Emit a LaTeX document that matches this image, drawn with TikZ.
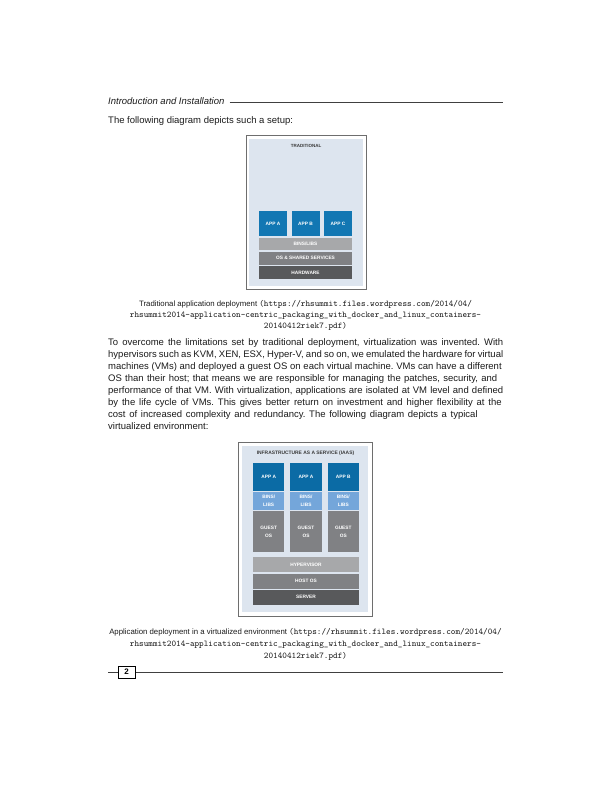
\documentclass[tikz,border=0pt]{standalone}
\usepackage{fontspec}
\setmainfont{Liberation Sans}
\frenchspacing
\definecolor{framegray}{HTML}{6E6E6E}
\definecolor{panelblue}{HTML}{DDE5EF}
\definecolor{appblue}{HTML}{1277B3}
\definecolor{appdark}{HTML}{0B6BA5}
\definecolor{binsblue}{HTML}{74A6DA}
\definecolor{glight}{HTML}{A7A8AA}
\definecolor{gmid}{HTML}{808184}
\definecolor{gdark}{HTML}{58595B}
\definecolor{titlegray}{HTML}{3A3A3A}
\definecolor{bodytext}{HTML}{1A1A1A}
\newcommand{\bodyfont}{\fontsize{9.5}{12}\selectfont}
\newcommand{\capsans}{\fontsize{7.8}{9}\selectfont}
\newcommand{\captt}{\fontsize{8.8}{12}\selectfont\ttfamily}
\newcommand{\fitline}[2]{\makebox[#1pt][s]{#2}}
\tikzset{
  framebox/.style={draw=framegray, line width=0.9pt, fill=white, inner sep=0pt},
  panelbox/.style={draw=none, fill=panelblue, inner sep=0pt},
  blk/.style={draw=none, inner sep=0pt, align=center, text=white,
              font=\fontsize{4.8}{7.8}\selectfont\bfseries},
  dtitle/.style={inner sep=0pt, text=titlegray, font=\fontsize{4.5}{5}\selectfont\bfseries},
  bodyline/.style={anchor=base west, inner sep=0pt, font=\bodyfont, text=bodytext},
  capline/.style={anchor=base, inner sep=0pt, text=bodytext},
  rulel/.style={draw=black!75, line width=0.6pt}
}
\begin{document}
\begin{tikzpicture}[x=1pt,y=-1pt]
\useasboundingbox (0,0) rectangle (612,792);
% header
\node[anchor=base west, inner sep=0pt, font=\bodyfont\itshape, text=bodytext] (hdr) at (108,104.5) {Introduction and Installation};
\coordinate (hdrend) at (503,102.5);
\draw[rulel] ([xshift=5pt]hdr.east |- hdrend) -- (hdrend);
\node[bodyline] (intro) at (108,123) {The following diagram depicts such a setup:};

% diagram 1
\node[framebox, minimum width=120, minimum height=154] (frame1) at (306,212) {};
\node[panelbox, minimum width=114, minimum height=147] (panel1) at (306,212.5) {};
\node[dtitle] (title1) at (306,146) {TRADITIONAL};
\node[blk, fill=appblue, minimum width=28, minimum height=25] (appA1) at (273,223.5) {APP A};
\node[blk, fill=appblue, minimum width=28, minimum height=25] (appB1) at (305.5,223.5) {APP B};
\node[blk, fill=appblue, minimum width=28, minimum height=25] (appC1) at (338,223.5) {APP C};
\node[blk, fill=glight, minimum width=93, minimum height=12.5] (bins1) at (305.5,243.75) {BINS/LIBS};
\node[blk, fill=gmid, minimum width=93, minimum height=13] (os1) at (305.5,258) {OS \& SHARED SERVICES};
\node[blk, fill=gdark, minimum width=93, minimum height=13] (hw1) at (305.5,272.5) {HARDWARE};

% caption 1
\node[capline] (cap1a) at (305.5,306.5) {\capsans Traditional application deployment \captt(https://rhsummit.files.wordpress.com/2014/04/};
\node[capline] (cap1b) at (305.5,317.5) {\captt rhsummit2014-application-centric\_packaging\_with\_docker\_and\_linux\_containers-};
\node[capline] (cap1c) at (305.5,328.5) {\captt 20140412riek7.pdf)};

% paragraph
\node[bodyline] (p1) at (108,345) {\fitline{395}{To overcome the limitations set by traditional deployment, virtualization was invented. With}};
\node[bodyline] (p2) at (108,357) {\fitline{395}{hypervisors such as KVM, XEN, ESX, Hyper-V, and so on, we emulated the hardware for virtual}};
\node[bodyline] (p3) at (108,369) {\fitline{393.5}{machines (VMs) and deployed a guest OS on each virtual machine. VMs can have a different}};
\node[bodyline] (p4) at (108,381) {\fitline{389}{OS than their host; that means we are responsible for managing the patches, security, and}};
\node[bodyline] (p5) at (108,393) {\fitline{395}{performance of that VM. With virtualization, applications are isolated at VM level and defined}};
\node[bodyline] (p6) at (108,405) {\fitline{393.5}{by the life cycle of VMs. This gives better return on investment and higher flexibility at the}};
\node[bodyline] (p7) at (108,417) {\fitline{369.5}{cost of increased complexity and redundancy. The following diagram depicts a typical}};
\node[bodyline] (p8) at (108,429) {virtualized environment:};

% diagram 2
\node[framebox, minimum width=134, minimum height=174] (frame2) at (305,529) {};
\node[panelbox, minimum width=126, minimum height=166] (panel2) at (305,529) {};
\node[dtitle, font=\fontsize{4.9}{5}\selectfont\bfseries] (title2) at (305.5,453.5) {INFRASTRUCTURE AS A SERVICE (IAAS)};
\node[blk, fill=appdark, minimum width=31.3, minimum height=28.5] (appA2) at (268.7,476.75) {APP A};
\node[blk, fill=appdark, minimum width=31.3, minimum height=28.5] (appB2) at (306,476.75) {APP A};
\node[blk, fill=appdark, minimum width=31.3, minimum height=28.5] (appC2) at (343.3,476.75) {APP B};
\node[blk, fill=binsblue, minimum width=31.3, minimum height=18] (binsA2) at (268.7,501) {BINS/\\LIBS};
\node[blk, fill=binsblue, minimum width=31.3, minimum height=18] (binsB2) at (306,501) {BINS/\\LIBS};
\node[blk, fill=binsblue, minimum width=31.3, minimum height=18] (binsC2) at (343.3,501) {BINS/\\LIBS};
\node[blk, fill=gmid, minimum width=31.3, minimum height=41] (guestA2) at (268.7,531.5) {GUEST\\OS};
\node[blk, fill=gmid, minimum width=31.3, minimum height=41] (guestB2) at (306,531.5) {GUEST\\OS};
\node[blk, fill=gmid, minimum width=31.3, minimum height=41] (guestC2) at (343.3,531.5) {GUEST\\OS};
\node[blk, fill=glight, minimum width=106, minimum height=15] (hyp2) at (306,564.5) {HYPERVISOR};
\node[blk, fill=gmid, minimum width=106, minimum height=15] (host2) at (306,581) {HOST OS};
\node[blk, fill=gdark, minimum width=106, minimum height=14.5] (server2) at (306,597.25) {SERVER};

% caption 2
\node[capline] (cap2a) at (305.5,634) {\capsans Application deployment in a virtualized environment \captt(https://rhsummit.files.wordpress.com/2014/04/};
\node[capline] (cap2b) at (305.5,646) {\captt rhsummit2014-application-centric\_packaging\_with\_docker\_and\_linux\_containers-};
\node[capline] (cap2c) at (305.5,658) {\captt 20140412riek7.pdf)};

% footer
\coordinate (fl) at (108,672);
\coordinate (fr) at (503,672);
\draw[rulel] (fl) -- (fr);
\node[draw=black, line width=1pt, fill=white, minimum width=17, minimum height=12, inner sep=0pt,
      font=\fontsize{8}{9}\selectfont\bfseries] (pg) at (126.5,672) {2};
\end{tikzpicture}
\end{document}
